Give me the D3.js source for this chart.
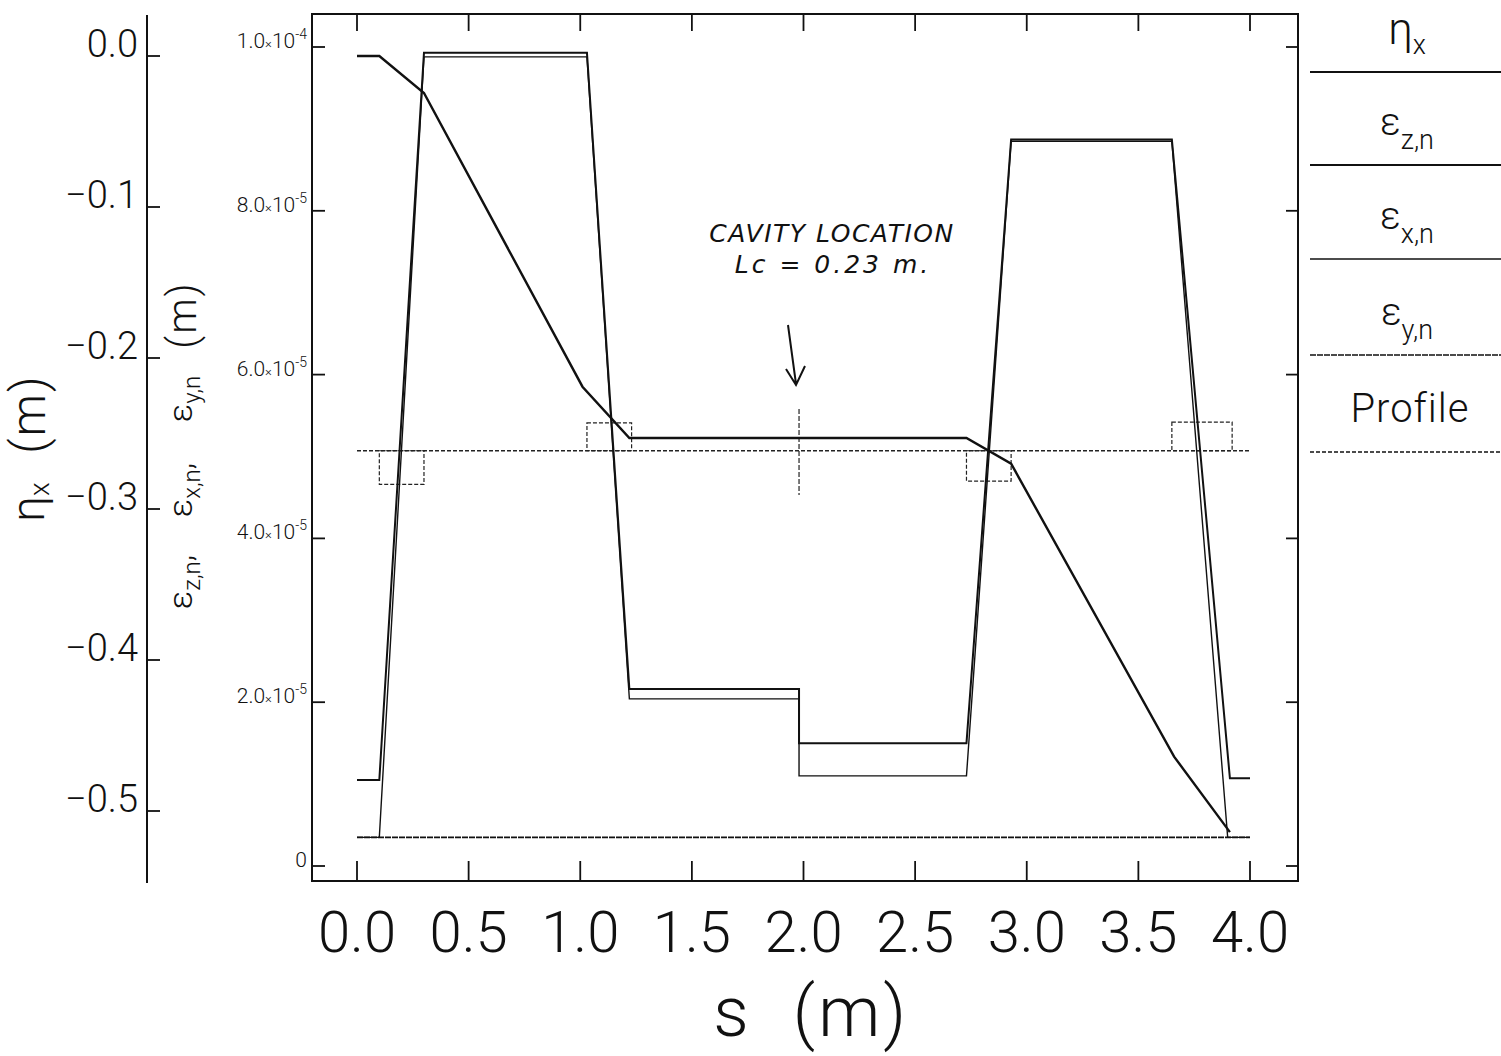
<!DOCTYPE html>
<html>
<head>
<meta charset="utf-8">
<script src="https://cdn.jsdelivr.net/npm/d3@7"></script>
<style>
  body { margin: 0; background: #fff; }
  svg { display: block; }
  text { font-family: Roboto, "Liberation Sans", sans-serif; font-weight: 300; fill: #111; }
  .hand { font-family: "DejaVu Sans", sans-serif; font-style: italic; font-weight: 400; }
</style>
</head>
<body>
<svg id="chart" width="1501" height="1056"></svg>
<script>
// ---- data ----
const sTicks = [0, 0.5, 1.0, 1.5, 2.0, 2.5, 3.0, 3.5, 4.0];
const etaTicks = [0, -0.1, -0.2, -0.3, -0.4, -0.5];
const epsTicks = [0, 2e-5, 4e-5, 6e-5, 8e-5, 1e-4];

// eta_x (m)
const etaS = [0, 0.1, 0.3, 1.01, 1.22, 2.73, 2.93, 3.66, 3.91];
const etaV = [0, 0, -0.0245, -0.219, -0.253, -0.253, -0.27, -0.464, -0.514];

// emittances (m)
const epsZS = [0, 0.1, 0.3, 1.03, 1.22, 1.98, 1.98, 2.73, 2.93, 3.65, 3.91, 4.0];
const epsZV = [1.05e-5, 1.05e-5, 9.93e-5, 9.93e-5, 2.16e-5, 2.16e-5, 1.5e-5, 1.5e-5, 8.87e-5, 8.87e-5, 1.07e-5, 1.07e-5];
const epsXS = [0, 0.1, 0.3, 1.03, 1.22, 1.98, 1.98, 2.73, 2.93, 3.65, 3.9, 4.0];
const epsXV = [3.5e-6, 3.5e-6, 9.88e-5, 9.88e-5, 2.04e-5, 2.04e-5, 1.1e-5, 1.1e-5, 8.85e-5, 8.85e-5, 3.5e-6, 3.5e-6];
const epsYS = [0, 4.0];
const epsYV = [3.5e-6, 3.5e-6];

// lattice profile (plotted on the emittance scale): baseline + bend boxes
const profBase = 5.07e-5;
const profRange = [0, 4.0];
const bendStart = [0.1, 1.03, 2.73, 3.65];
const bendEnd = [0.3, 1.23, 2.93, 3.92];
const bendLevel = [4.66e-5, 5.41e-5, 4.7e-5, 5.42e-5];

const cavityS = 1.98;
const cavityRange = [4.53e-5, 5.58e-5];

const legendSym = ["η", "ε", "ε", "ε", null];
const legendSub = ["x", "z,n", "x,n", "y,n", "Profile"];
const legendY = [72, 165, 259, 355, 452];

// y-title pieces (centre along the axis, reading bottom to top)
const epsTitleSub = ["z,n", "x,n", "y,n"];
const epsTitleTail = [",", ",", ""];
const epsTitleY = [582, 490, 399];

const svg = d3.select("#chart");

const x = d3.scaleLinear().domain([0, 4]).range([357, 1250]);
const yE = d3.scaleLinear().domain([0, 1e-4]).range([866, 47]);
const yEta = d3.scaleLinear().domain([0, -0.5]).range([56, 811]);

const frame = { left: 312, right: 1298, top: 14, bottom: 881 };

// frame
svg.append("rect")
  .attr("x", frame.left).attr("y", frame.top)
  .attr("width", frame.right - frame.left)
  .attr("height", frame.bottom - frame.top)
  .attr("fill", "none").attr("stroke", "#111").attr("stroke-width", 2);

// s ticks, top and bottom
svg.append("g").selectAll("line").data(sTicks).enter().append("line")
  .attr("x1", (d) => x(d)).attr("x2", (d) => x(d))
  .attr("y1", frame.top).attr("y2", frame.top + 17)
  .attr("stroke", "#111").attr("stroke-width", 1.8);
svg.append("g").selectAll("line").data(sTicks).enter().append("line")
  .attr("x1", (d) => x(d)).attr("x2", (d) => x(d))
  .attr("y1", frame.bottom).attr("y2", frame.bottom - 20)
  .attr("stroke", "#111").attr("stroke-width", 1.8);

svg.append("g").selectAll("text").data(sTicks).enter().append("text")
  .attr("x", (d) => x(d)).attr("y", 952)
  .attr("text-anchor", "middle")
  .attr("font-size", 58)
  .text((d) => d.toFixed(1));

svg.append("text")
  .attr("x", 731).attr("y", 1036)
  .attr("text-anchor", "middle")
  .attr("font-size", 70)
  .text("s");
svg.append("text")
  .attr("x", 851).attr("y", 1036)
  .attr("text-anchor", "middle")
  .attr("font-size", 70)
  .attr("letter-spacing", 3)
  .text("(m)");

// emittance axis ticks (left and right of frame)
svg.append("g").selectAll("line").data(epsTicks).enter().append("line")
  .attr("x1", frame.left).attr("x2", frame.left + 13)
  .attr("y1", (d) => yE(d)).attr("y2", (d) => yE(d))
  .attr("stroke", "#111").attr("stroke-width", 1.8);
svg.append("g").selectAll("line").data(epsTicks).enter().append("line")
  .attr("x1", frame.right).attr("x2", frame.right - 12)
  .attr("y1", (d) => yE(d)).attr("y2", (d) => yE(d))
  .attr("stroke", "#111").attr("stroke-width", 1.8);

const epsLab = svg.append("g").selectAll("text").data(epsTicks).enter().append("text")
  .attr("x", 307).attr("y", (d) => yE(d) + 1)
  .attr("text-anchor", "end")
  .attr("font-size", 21)
  .attr("font-weight", 400);
epsLab.each(function (d) {
  const t = d3.select(this);
  if (d === 0) { t.text("0"); return; }
  const e = Math.floor(Math.log10(d) + 1e-9);
  const m = d / Math.pow(10, e);
  t.append("tspan").text(m.toFixed(1));
  t.append("tspan").attr("font-size", 13).text("×");
  t.append("tspan").text("10");
  t.append("tspan").attr("font-size", 14).attr("dy", -9).text(String(e));
});

// eta axis
svg.append("line")
  .attr("x1", 147).attr("x2", 147).attr("y1", 15).attr("y2", 883)
  .attr("stroke", "#111").attr("stroke-width", 2);
svg.append("g").selectAll("line").data(etaTicks).enter().append("line")
  .attr("x1", 147).attr("x2", 160)
  .attr("y1", (d) => yEta(d)).attr("y2", (d) => yEta(d))
  .attr("stroke", "#111").attr("stroke-width", 1.8);
svg.append("g").selectAll("text").data(etaTicks).enter().append("text")
  .attr("x", 138).attr("y", (d) => yEta(d) + 1)
  .attr("text-anchor", "end")
  .attr("font-size", 38)
  .text((d) => (d === 0 ? "0.0" : "−" + Math.abs(d).toFixed(1)));

// eta title (rotated)
const etaT = svg.append("text")
  .attr("transform", "translate(44,502) rotate(-90)")
  .attr("text-anchor", "middle")
  .attr("font-size", 46);
etaT.append("tspan").text("η");
etaT.append("tspan").attr("font-size", 28).attr("dy", 5).text("x");
svg.append("text")
  .attr("transform", "translate(45,414) rotate(-90)")
  .attr("text-anchor", "middle")
  .attr("font-size", 48)
  .attr("letter-spacing", 2)
  .text("(m)");

// emittance title (rotated)
epsTitleY.forEach((cy, i) => {
  const t = svg.append("text")
    .attr("transform", `translate(192,${cy}) rotate(-90)`)
    .attr("text-anchor", "middle")
    .attr("font-size", 34);
  t.append("tspan").text("ε");
  t.append("tspan").attr("font-size", 24).attr("dy", 8).text(epsTitleSub[i]);
  t.append("tspan").attr("dy", -8).text(epsTitleTail[i]);
});
svg.append("text")
  .attr("transform", "translate(196,315) rotate(-90)")
  .attr("text-anchor", "middle")
  .attr("font-size", 40)
  .attr("letter-spacing", 2)
  .text("(m)");

// curves
const zipE = (s, v) => s.map((d, i) => [d, v[i]]);
const lineE = d3.line().x((d) => x(d[0])).y((d) => yE(d[1]));
const lineEta = d3.line().x((d) => x(d[0])).y((d) => yEta(d[1]));

// profile baseline and bend boxes
svg.append("line")
  .attr("x1", x(profRange[0])).attr("x2", x(profRange[1]))
  .attr("y1", yE(profBase)).attr("y2", yE(profBase))
  .attr("stroke", "#222").attr("stroke-width", 1.3).attr("stroke-dasharray", "4,2");
svg.append("g").selectAll("rect").data(bendStart).enter().append("rect")
  .attr("x", (d) => x(d))
  .attr("width", (d, i) => x(bendEnd[i]) - x(d))
  .attr("y", (d, i) => Math.min(yE(bendLevel[i]), yE(profBase)))
  .attr("height", (d, i) => Math.abs(yE(bendLevel[i]) - yE(profBase)))
  .attr("fill", "none").attr("stroke", "#222").attr("stroke-width", 1.2)
  .attr("stroke-dasharray", "4,2");

svg.append("line")
  .attr("x1", x(cavityS)).attr("x2", x(cavityS))
  .attr("y1", yE(cavityRange[1])).attr("y2", yE(cavityRange[0]))
  .attr("stroke", "#222").attr("stroke-width", 1.2).attr("stroke-dasharray", "5,2");

svg.append("path").datum(zipE(epsYS, epsYV))
  .attr("d", lineE).attr("fill", "none")
  .attr("stroke", "#111").attr("stroke-width", 1.6).attr("stroke-dasharray", "6,1");

svg.append("path").datum(zipE(epsXS, epsXV))
  .attr("d", lineE).attr("fill", "none")
  .attr("stroke", "#111").attr("stroke-width", 1.4);

svg.append("path").datum(zipE(epsZS, epsZV))
  .attr("d", lineE).attr("fill", "none")
  .attr("stroke", "#111").attr("stroke-width", 2);

svg.append("path").datum(zipE(etaS, etaV))
  .attr("d", lineEta).attr("fill", "none")
  .attr("stroke", "#111").attr("stroke-width", 2.4);

// handwritten note
svg.append("text").attr("class", "hand")
  .attr("x", 832).attr("y", 242).attr("text-anchor", "middle")
  .attr("font-size", 25).attr("letter-spacing", 1.5).text("CAVITY LOCATION");
svg.append("text").attr("class", "hand")
  .attr("x", 833).attr("y", 273).attr("text-anchor", "middle")
  .attr("font-size", 25).attr("letter-spacing", 3).text("Lc = 0.23 m.");
svg.append("path")
  .attr("d", "M788,325 L796,384 M786,369 L796,385 L805,366")
  .attr("fill", "none").attr("stroke", "#111").attr("stroke-width", 2);

// legend
const leg = svg.append("g");
legendY.forEach((ly, i) => {
  leg.append("line")
    .attr("x1", 1310).attr("x2", 1501)
    .attr("y1", ly).attr("y2", ly)
    .attr("stroke", "#111")
    .attr("stroke-width", i < 2 ? 2 : 1.5)
    .attr("stroke-dasharray", i === 3 ? "6,1" : i === 4 ? "4,2" : null);
  const sym = legendSym[i];
  if (sym === null) {
    leg.append("text")
      .attr("x", 1410).attr("y", ly - 30)
      .attr("text-anchor", "middle").attr("font-size", 40)
      .attr("letter-spacing", 1)
      .text(legendSub[i]);
  } else {
    const t = leg.append("text")
      .attr("x", 1407).attr("y", ly - (sym === "η" ? 28 : 30))
      .attr("text-anchor", "middle").attr("font-size", sym === "η" ? 44 : 38);
    t.append("tspan").text(sym);
    t.append("tspan").attr("font-size", 27).attr("dy", sym === "η" ? 10 : 14).text(legendSub[i]);
  }
});
</script>
</body>
</html>
